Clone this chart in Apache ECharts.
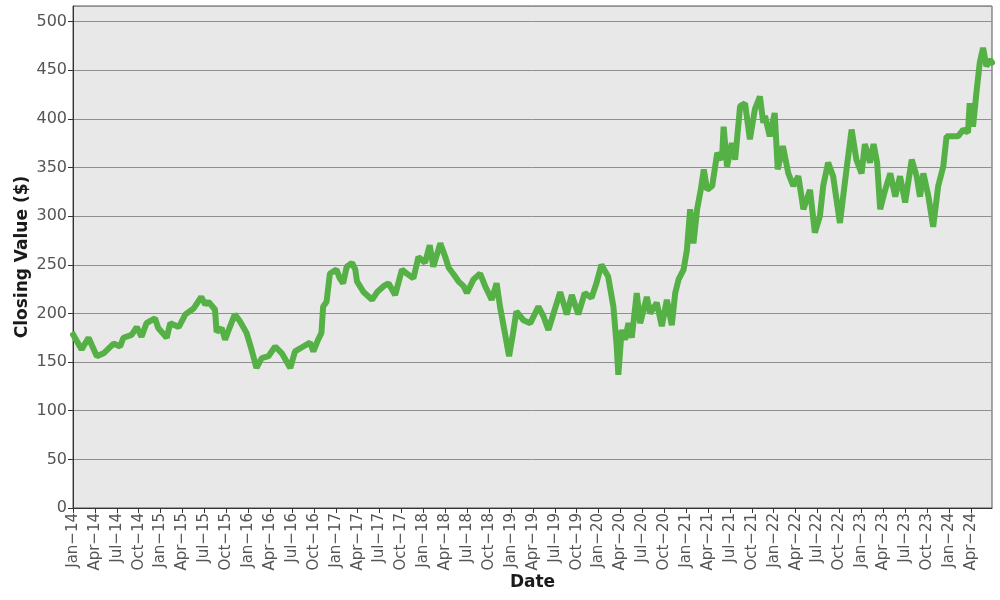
<!DOCTYPE html>
<html>
<head>
<meta charset="utf-8">
<script src="https://cdn.jsdelivr.net/npm/echarts@6/dist/echarts.min.js"></script>
<style>
  html, body { margin: 0; padding: 0; background: #fff; }
  #chart { width: 1000px; height: 600px; }
</style>
</head>
<body>
<div id="chart"></div>
<script>
// closing values
const dates = [
  "2014-01-02", "2014-02-06", "2014-03-05", "2014-04-09", "2014-05-07", "2014-06-18",
  "2014-07-15", "2014-07-29", "2014-09-02", "2014-09-23", "2014-10-13", "2014-11-03",
  "2014-12-08", "2014-12-22", "2015-01-27", "2015-02-10", "2015-03-16", "2015-04-13",
  "2015-05-17", "2015-06-18", "2015-07-05", "2015-07-18", "2015-08-15", "2015-08-22",
  "2015-09-12", "2015-09-26", "2015-10-16", "2015-11-06", "2015-11-27", "2015-12-25",
  "2016-01-15", "2016-02-05", "2016-02-26", "2016-03-25", "2016-04-22", "2016-05-20",
  "2016-06-24", "2016-07-14", "2016-08-18", "2016-09-15", "2016-09-29", "2016-10-19",
  "2016-11-02", "2016-11-09", "2016-11-23", "2016-12-07", "2017-01-04", "2017-01-18",
  "2017-02-01", "2017-02-15", "2017-03-08", "2017-03-22", "2017-03-29", "2017-04-25",
  "2017-05-31", "2017-06-21", "2017-07-18", "2017-08-08", "2017-09-05", "2017-10-03",
  "2017-10-24", "2017-11-20", "2017-12-11", "2018-01-08", "2018-01-28", "2018-02-11",
  "2018-03-11", "2018-04-01", "2018-04-15", "2018-05-06", "2018-05-26", "2018-06-16",
  "2018-06-30", "2018-07-28", "2018-08-25", "2018-09-15", "2018-10-12", "2018-11-02",
  "2018-11-16", "2018-12-06", "2018-12-24", "2019-01-10", "2019-01-24", "2019-02-21",
  "2019-03-21", "2019-04-24", "2019-05-15", "2019-06-05", "2019-06-26", "2019-07-24",
  "2019-08-21", "2019-09-11", "2019-10-08", "2019-11-04", "2019-12-02", "2019-12-23",
  "2020-01-13", "2020-02-10", "2020-03-02", "2020-03-16", "2020-03-23", "2020-04-06",
  "2020-04-20", "2020-05-04", "2020-05-18", "2020-06-08", "2020-06-22", "2020-07-20",
  "2020-08-03", "2020-08-31", "2020-09-21", "2020-10-12", "2020-11-02", "2020-11-16",
  "2020-11-30", "2020-12-21", "2021-01-04", "2021-01-18", "2021-02-01", "2021-02-15",
  "2021-03-01", "2021-03-14", "2021-03-28", "2021-04-18", "2021-05-09", "2021-05-29",
  "2021-06-05", "2021-06-19", "2021-07-09", "2021-07-23", "2021-08-13", "2021-09-03",
  "2021-09-23", "2021-10-14", "2021-11-04", "2021-11-18", "2021-11-25", "2021-12-15",
  "2022-01-05", "2022-01-18", "2022-02-08", "2022-03-01", "2022-03-22", "2022-04-12",
  "2022-05-03", "2022-05-31", "2022-06-20", "2022-07-11", "2022-07-25", "2022-08-15",
  "2022-09-05", "2022-10-03", "2022-10-31", "2022-11-21", "2022-12-11", "2023-01-02",
  "2023-01-16", "2023-02-06", "2023-02-20", "2023-03-06", "2023-03-19", "2023-04-09",
  "2023-04-30", "2023-05-21", "2023-06-10", "2023-07-01", "2023-07-29", "2023-08-19",
  "2023-09-02", "2023-09-16", "2023-10-07", "2023-10-27", "2023-11-17", "2023-12-08",
  "2023-12-22", "2024-01-11", "2024-02-08", "2024-02-29", "2024-03-20", "2024-03-27",
  "2024-04-10", "2024-04-24", "2024-05-08", "2024-05-22", "2024-06-05", "2024-06-19",
  "2024-06-28"
];
const closing = [
  178, 163, 175, 156, 159, 169,
  166, 175, 178, 186, 176, 190,
  195, 185, 175, 190, 186, 199,
  205, 217, 209, 212, 204, 181,
  185, 173, 186, 199, 192, 180,
  163, 144, 154, 156, 166, 159,
  144, 161, 166, 170, 161, 173,
  180, 207, 212, 241, 245, 236,
  231, 248, 252, 245, 233, 222,
  214, 222, 228, 231, 219, 245,
  241, 236, 258, 252, 270, 248,
  272, 258, 247, 240, 233, 228,
  221, 235, 241, 228, 214, 231,
  207, 180, 156, 180, 202, 193,
  190, 207, 197, 183, 200, 222,
  199, 219, 199, 221, 216, 231,
  250, 238, 207, 166, 137, 183,
  173, 190, 175, 221, 190, 217,
  200, 211, 187, 214, 188, 221,
  235, 245, 265, 307, 272, 307,
  327, 348, 327, 331, 365, 358,
  392, 351, 375, 358, 413, 416,
  379, 410, 423, 396, 403, 382,
  406, 348, 372, 344, 331, 341,
  307, 327, 283, 300, 331, 355,
  341, 293, 348, 389, 358, 344,
  374, 355, 374, 355, 307, 327,
  344, 320, 341, 314, 358, 341,
  320, 344, 320, 289, 331, 351,
  382, 382, 382, 389, 386, 416,
  392, 427, 458, 473, 454, 461,
  458
];
const monthNames = ["Jan", "Feb", "Mar", "Apr", "May", "Jun",
                    "Jul", "Aug", "Sep", "Oct", "Nov", "Dec"];
const startYear = 2014;
const endDate = "2024-06-28";

// months since Jan 2014, with the day as a fraction of the month
function monthIndex(s) {
  const [y, m, d] = s.split("-").map(Number);
  const days = new Date(y, m, 0).getDate();
  return (y - startYear) * 12 + (m - 1) + (d - 1) / days;
}

const points = dates.map((d, i) => [monthIndex(d), closing[i]]);

const chart = echarts.init(document.getElementById("chart"));
chart.setOption({
  animation: false,
  grid: {
    left: 73, right: 8, top: 6, bottom: 92,
    outerBoundsMode: "none",
    show: true,
    backgroundColor: "#e8e8e8",
    borderColor: "#555",
    borderWidth: 1
  },
  xAxis: {
    type: "value",
    min: 0,
    max: monthIndex(endDate),
    interval: 3,
    name: "Date",
    nameLocation: "middle",
    nameGap: 66,
    nameMoveOverlap: false,
    nameTextStyle: { fontFamily: "DejaVu Sans", fontWeight: "bold", fontSize: 17, color: "#1a1a1a" },
    axisLine: { show: true, lineStyle: { color: "#333", width: 1 } },
    axisTick: { show: true, length: 5, lineStyle: { color: "#333" } },
    splitLine: { show: false },
    axisLabel: {
      rotate: 90,
      showMaxLabel: false,
      fontFamily: "DejaVu Sans",
      fontSize: 15,
      color: "#555",
      margin: 5,
      formatter: v => monthNames[Math.round(v) % 12] + "\u2212" +
        String((startYear + Math.floor(Math.round(v) / 12)) % 100).padStart(2, "0")
    }
  },
  yAxis: {
    type: "value",
    min: 0,
    max: 516,
    interval: 50,
    name: "Closing Value ($)",
    nameLocation: "middle",
    nameGap: 42,
    nameMoveOverlap: false,
    nameTextStyle: { fontFamily: "DejaVu Sans", fontWeight: "bold", fontSize: 17, color: "#1a1a1a" },
    axisLine: { show: true, lineStyle: { color: "#333", width: 1 } },
    axisTick: { show: true, length: 5, lineStyle: { color: "#333" } },
    splitLine: { show: true, lineStyle: { color: "#8f8f8f", width: 1 } },
    axisLabel: {
      showMaxLabel: false,
      fontFamily: "DejaVu Sans",
      fontSize: 16,
      color: "#555",
      margin: 6
    }
  },
  series: [{
    type: "line",
    data: points,
    showSymbol: false,
    lineStyle: { color: "#55b046", width: 6, join: "bevel", cap: "square" },
    itemStyle: { color: "#55b046" }
  }]
});
</script>
</body>
</html>
